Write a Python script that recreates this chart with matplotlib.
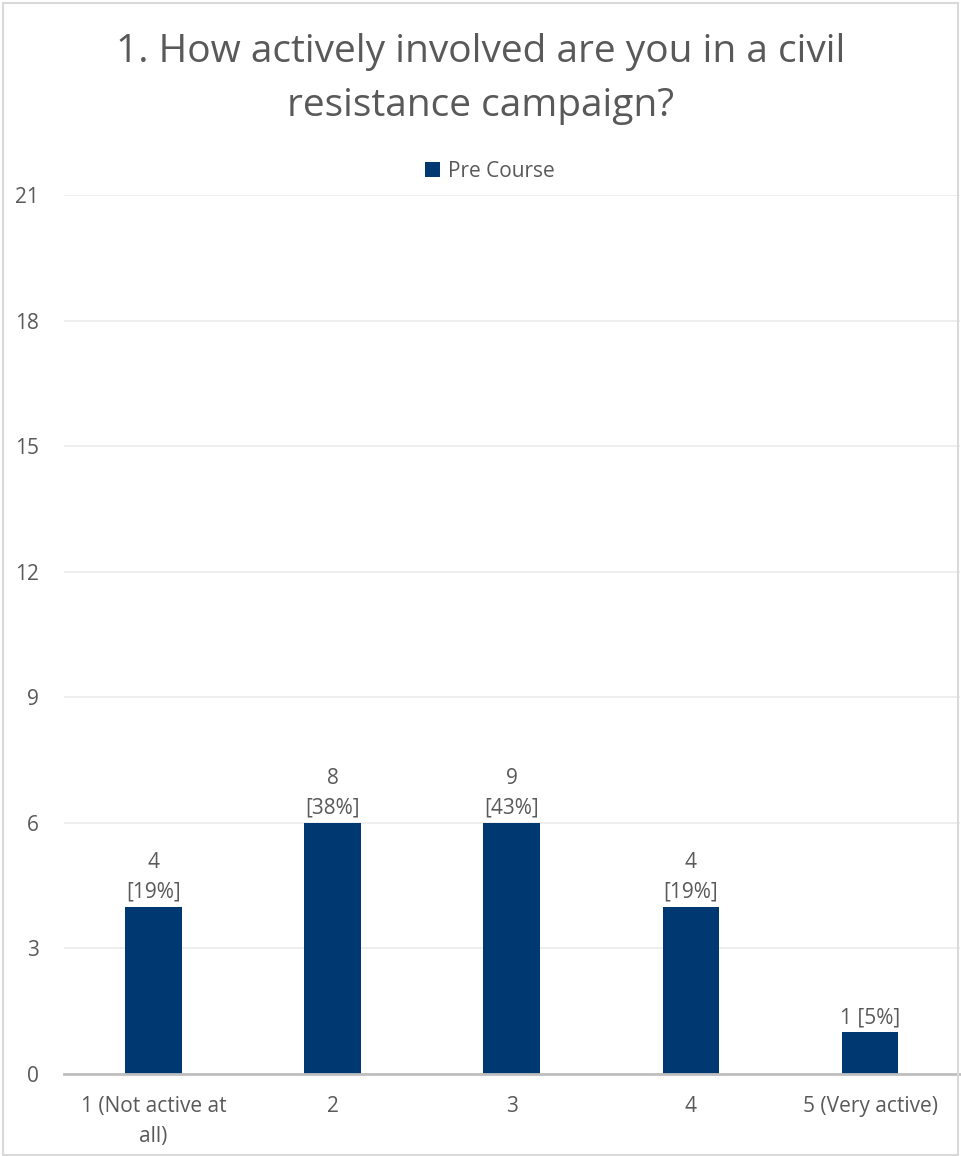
import matplotlib.pyplot as plt
import numpy as np

# chart data
categories = ["1 (Not active at\nall)", "2", "3", "4", "5 (Very active)"]
bar_heights = [4, 6, 6, 4, 1]      # heights as drawn in the picture
counts = [4, 8, 9, 4, 1]           # counts shown in the labels
percents = [19, 38, 43, 19, 5]
yticks = [0, 3, 6, 9, 12, 15, 18, 21]

plt.rcParams['font.family'] = ['Open Sans', 'DejaVu Sans']
text_color = '#595959'
bar_color = '#003871'
fs = 15

fig = plt.figure(figsize=(9.61, 11.56), dpi=100)
ax = fig.add_axes([0.0666, 0.0709, 0.932, 0.7604])

x = np.arange(len(categories))
bars = ax.bar(x, bar_heights, width=0.317, color=bar_color, label='Pre Course', zorder=3)

# data labels: two lines unless it is short
for xi, h, c, p in zip(x, bar_heights, counts, percents):
    if c == 1:
        txt = f"{c} [{p}%]"
    else:
        txt = f"{c}\n[{p}%]"
    ax.annotate(txt, (xi, h), xytext=(0, 3), textcoords='offset points',
                ha='center', va='bottom', fontsize=fs, color=text_color,
                linespacing=1.55)

ax.set_xlim(-0.5, 4.5)
ax.set_ylim(0, 21)
ax.set_yticks(yticks)
ax.set_xticks(x)
ax.set_xticklabels(categories, fontsize=fs, color=text_color, linespacing=1.55)
ax.tick_params(axis='y', labelsize=fs, labelcolor=text_color, length=0, pad=18)
ax.tick_params(axis='x', length=0, pad=16)

ax.grid(axis='y', color='#ebebeb', linewidth=1.2, zorder=0)
for s in ['top', 'right', 'left']:
    ax.spines[s].set_visible(False)
ax.spines['bottom'].set_color('#bfbfbf')
ax.spines['bottom'].set_linewidth(2)
ax.spines['bottom'].set_zorder(4)

fig.text(0.5, 0.932, "1. How actively involved are you in a civil\nresistance campaign?",
         ha='center', va='center', fontsize=28, color=text_color, linespacing=1.55)

ax.legend(loc='center', bbox_to_anchor=(0.51, 0.852), bbox_transform=fig.transFigure,
          frameon=False, fontsize=fs, labelcolor=text_color,
          handlelength=0.7, handleheight=0.7, handletextpad=0.4)

# chart border
fig.patches.append(plt.Rectangle((0.003, 0.001), 0.994, 0.996, transform=fig.transFigure,
                                 fill=False, edgecolor='#d9d9d9', linewidth=1.5))

fig.savefig('out.png', dpi=100)
